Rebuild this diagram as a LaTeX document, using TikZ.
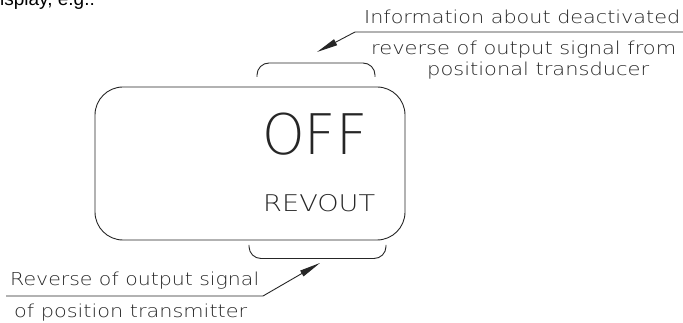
\documentclass[tikz,border=0pt]{standalone}
\usepackage{fontspec}
\usepackage{graphicx}
\usetikzlibrary{arrows.meta}
\newfontfamily\cadfont{DejaVuSans-ExtraLight}[Extension=.ttf]
\newfontfamily\headfont{Liberation Sans}
\newcommand{\fitw}[2]{\resizebox{#1}{\height}{#2}}
\tikzset{
  ln/.style={line width=0.9pt, draw=black!85},
  lbl/.style={font=\cadfont\fontsize{17.8}{20}\selectfont, text=black!85, inner sep=0pt, anchor=base west},
  big/.style={font=\cadfont\fontsize{56}{60}\selectfont, text=black!85, inner sep=0pt, anchor=base west},
  mid/.style={font=\cadfont\fontsize{23}{26}\selectfont, text=black!85, inner sep=0pt, anchor=base west},
  tip/.style={-{Triangle[length=21pt,width=6.5pt]}},
}
\begin{document}
\begin{tikzpicture}[x=1pt,y=-1pt]
\useasboundingbox (0,0) rectangle (683,323);
\clip (0,0) rectangle (683,323);
% cropped heading
\node[font=\headfont\fontsize{19}{21}\selectfont, inner sep=0pt, anchor=base west] (head) at (-10.6,6) {display, e.g.:};
% display frame
\node[ln, draw, rounded corners=28pt, minimum width=310pt, minimum height=153pt, inner sep=0pt] (disp) at (250,163.5) {};
\node[big] (off) at (262,155) {\fitw{105pt}{OFF}};
\node[mid] (rev) at (263,212) {\fitw{112pt}{REVOUT}};
% brackets
\draw[ln, rounded corners=12pt] (257,77) -- (257,63) -- (375,63) -- (375,77);
\draw[ln, rounded corners=12pt] (249,245) -- (249,258.5) -- (386,258.5) -- (386,245);
% top annotation
\node[lbl] (t1) at (364,24) {\fitw{316pt}{Information about deactivated}};
\node[lbl] (t2) at (371,55) {\fitw{305pt}{reverse of output signal from}};
\node[lbl] (t3) at (427,76) {\fitw{222pt}{positional transducer}};
\coordinate (r1) at (683,32);
\coordinate (k1) at (355,32);
\coordinate (a1) at (317,52);
\draw[ln, tip] (r1) -- (k1) -- (a1);
% bottom annotation
\node[lbl] (b1) at (10,286) {\fitw{249pt}{Reverse of output signal}};
\node[lbl] (b2) at (14,318) {\fitw{233pt}{of position transmitter}};
\coordinate (l2) at (6,296);
\coordinate (k2) at (263,296);
\coordinate (a2) at (320,263);
\draw[ln, tip] (l2) -- (k2) -- (a2);
\end{tikzpicture}
\end{document}
